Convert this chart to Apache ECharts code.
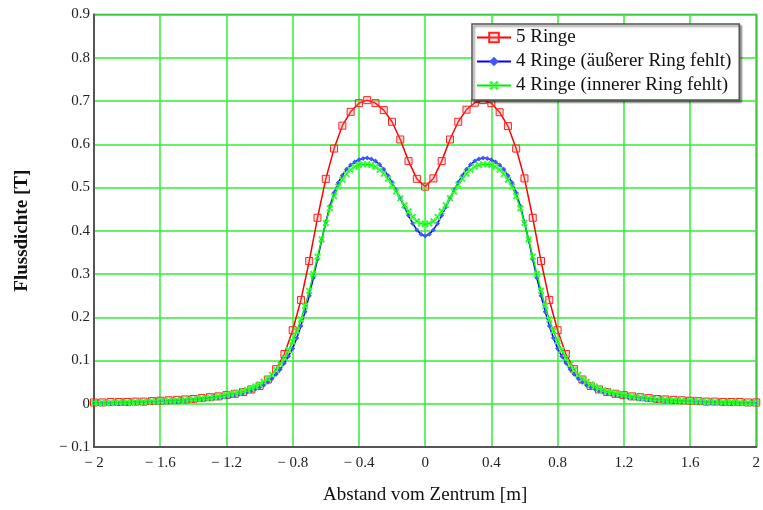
<!DOCTYPE html>
<html>
<head>
<meta charset="utf-8">
<script src="https://cdn.jsdelivr.net/npm/echarts@6/dist/echarts.min.js"></script>
<style>
  html, body { margin: 0; padding: 0; background: #fff; }
  #chart { width: 763px; height: 510px; }
</style>
</head>
<body>
<div id="chart"></div>
<script>
// x positions, step 0.05 (5 Ringe)
var xCoarse = [-2.00, -1.95, -1.90, -1.85, -1.80, -1.75, -1.70, -1.65, -1.60, -1.55,
    -1.50, -1.45, -1.40, -1.35, -1.30, -1.25, -1.20, -1.15, -1.10, -1.05,
    -1.00, -0.95, -0.90, -0.85, -0.80, -0.75, -0.70, -0.65, -0.60, -0.55,
    -0.50, -0.45, -0.40, -0.35, -0.30, -0.25, -0.20, -0.15, -0.10, -0.05,
    0.00, 0.05, 0.10, 0.15, 0.20, 0.25, 0.30, 0.35, 0.40, 0.45,
    0.50, 0.55, 0.60, 0.65, 0.70, 0.75, 0.80, 0.85, 0.90, 0.95,
    1.00, 1.05, 1.10, 1.15, 1.20, 1.25, 1.30, 1.35, 1.40, 1.45,
    1.50, 1.55, 1.60, 1.65, 1.70, 1.75, 1.80, 1.85, 1.90, 1.95, 2.00];

var ringe5 = [0.003, 0.003, 0.004, 0.004, 0.004, 0.005, 0.005, 0.006, 0.007, 0.008,
    0.009, 0.010, 0.011, 0.013, 0.015, 0.017, 0.020, 0.023, 0.027, 0.033,
    0.041, 0.056, 0.080, 0.115, 0.170, 0.240, 0.330, 0.430, 0.520, 0.590,
    0.643, 0.675, 0.695, 0.702, 0.695, 0.679, 0.652, 0.611, 0.561, 0.520,
    0.502, 0.521, 0.561, 0.611, 0.652, 0.680, 0.696, 0.702, 0.695, 0.674,
    0.642, 0.590, 0.521, 0.430, 0.330, 0.240, 0.170, 0.115, 0.080, 0.056,
    0.041, 0.033, 0.027, 0.023, 0.020, 0.017, 0.015, 0.013, 0.011, 0.010,
    0.009, 0.008, 0.007, 0.006, 0.005, 0.005, 0.004, 0.004, 0.004, 0.003, 0.003];

// x positions, step 0.025 (4 Ringe)
var xFine = [-2.000, -1.975, -1.950, -1.925, -1.900, -1.875, -1.850, -1.825, -1.800, -1.775,
    -1.750, -1.725, -1.700, -1.675, -1.650, -1.625, -1.600, -1.575, -1.550, -1.525,
    -1.500, -1.475, -1.450, -1.425, -1.400, -1.375, -1.350, -1.325, -1.300, -1.275,
    -1.250, -1.225, -1.200, -1.175, -1.150, -1.125, -1.100, -1.075, -1.050, -1.025,
    -1.000, -0.975, -0.950, -0.925, -0.900, -0.875, -0.850, -0.825, -0.800, -0.775,
    -0.750, -0.725, -0.700, -0.675, -0.650, -0.625, -0.600, -0.575, -0.550, -0.525,
    -0.500, -0.475, -0.450, -0.425, -0.400, -0.375, -0.350, -0.325, -0.300, -0.275,
    -0.250, -0.225, -0.200, -0.175, -0.150, -0.125, -0.100, -0.075, -0.050, -0.025,
    0.000, 0.025, 0.050, 0.075, 0.100, 0.125, 0.150, 0.175, 0.200, 0.225,
    0.250, 0.275, 0.300, 0.325, 0.350, 0.375, 0.400, 0.425, 0.450, 0.475,
    0.500, 0.525, 0.550, 0.575, 0.600, 0.625, 0.650, 0.675, 0.700, 0.725,
    0.750, 0.775, 0.800, 0.825, 0.850, 0.875, 0.900, 0.925, 0.950, 0.975,
    1.000, 1.025, 1.050, 1.075, 1.100, 1.125, 1.150, 1.175, 1.200, 1.225,
    1.250, 1.275, 1.300, 1.325, 1.350, 1.375, 1.400, 1.425, 1.450, 1.475,
    1.500, 1.525, 1.550, 1.575, 1.600, 1.625, 1.650, 1.675, 1.700, 1.725,
    1.750, 1.775, 1.800, 1.825, 1.850, 1.875, 1.900, 1.925, 1.950, 1.975, 2.000];

var aeussererFehlt = [0.001, 0.001, 0.001, 0.001, 0.002, 0.002, 0.002, 0.002, 0.002, 0.003,
    0.003, 0.003, 0.003, 0.004, 0.004, 0.004, 0.005, 0.005, 0.005, 0.006,
    0.006, 0.007, 0.007, 0.008, 0.008, 0.009, 0.010, 0.011, 0.012, 0.013,
    0.014, 0.015, 0.016, 0.018, 0.020, 0.022, 0.024, 0.027, 0.030, 0.034,
    0.038, 0.043, 0.050, 0.058, 0.068, 0.080, 0.094, 0.110, 0.128, 0.152,
    0.180, 0.213, 0.250, 0.291, 0.334, 0.378, 0.420, 0.457, 0.488, 0.511,
    0.528, 0.542, 0.552, 0.559, 0.564, 0.567, 0.568, 0.566, 0.561, 0.553,
    0.542, 0.528, 0.512, 0.494, 0.475, 0.455, 0.435, 0.417, 0.402, 0.392,
    0.388, 0.392, 0.402, 0.417, 0.435, 0.455, 0.475, 0.494, 0.512, 0.528,
    0.542, 0.553, 0.561, 0.566, 0.568, 0.567, 0.564, 0.559, 0.552, 0.542,
    0.528, 0.511, 0.488, 0.457, 0.420, 0.378, 0.334, 0.291, 0.250, 0.213,
    0.180, 0.152, 0.128, 0.110, 0.094, 0.080, 0.068, 0.058, 0.050, 0.043,
    0.038, 0.034, 0.030, 0.027, 0.024, 0.022, 0.020, 0.018, 0.016, 0.015,
    0.014, 0.013, 0.012, 0.011, 0.010, 0.009, 0.008, 0.008, 0.007, 0.007,
    0.006, 0.006, 0.005, 0.005, 0.005, 0.004, 0.004, 0.004, 0.003, 0.003,
    0.003, 0.003, 0.002, 0.002, 0.002, 0.002, 0.002, 0.001, 0.001, 0.001, 0.001];

var innererFehlt = [0.002, 0.002, 0.002, 0.002, 0.002, 0.003, 0.003, 0.003, 0.003, 0.003,
    0.004, 0.004, 0.004, 0.005, 0.005, 0.005, 0.006, 0.006, 0.007, 0.007,
    0.008, 0.008, 0.009, 0.010, 0.010, 0.011, 0.012, 0.013, 0.014, 0.015,
    0.017, 0.018, 0.020, 0.022, 0.024, 0.026, 0.029, 0.032, 0.036, 0.040,
    0.045, 0.051, 0.058, 0.067, 0.078, 0.091, 0.106, 0.124, 0.144, 0.168,
    0.195, 0.226, 0.261, 0.300, 0.340, 0.380, 0.418, 0.452, 0.480, 0.502,
    0.518, 0.531, 0.541, 0.548, 0.552, 0.554, 0.554, 0.552, 0.548, 0.541,
    0.532, 0.520, 0.506, 0.491, 0.475, 0.459, 0.445, 0.432, 0.422, 0.417,
    0.415, 0.417, 0.422, 0.432, 0.445, 0.459, 0.475, 0.491, 0.506, 0.520,
    0.532, 0.541, 0.548, 0.552, 0.554, 0.554, 0.552, 0.548, 0.541, 0.531,
    0.518, 0.502, 0.480, 0.452, 0.418, 0.380, 0.340, 0.300, 0.261, 0.226,
    0.195, 0.168, 0.144, 0.124, 0.106, 0.091, 0.078, 0.067, 0.058, 0.051,
    0.045, 0.040, 0.036, 0.032, 0.029, 0.026, 0.024, 0.022, 0.020, 0.018,
    0.017, 0.015, 0.014, 0.013, 0.012, 0.011, 0.010, 0.010, 0.009, 0.008,
    0.008, 0.007, 0.007, 0.006, 0.006, 0.005, 0.005, 0.005, 0.004, 0.004,
    0.004, 0.003, 0.003, 0.003, 0.003, 0.003, 0.002, 0.002, 0.002, 0.002, 0.002];

var seriesNames = ['5 Ringe', '4 Ringe (äußerer Ring fehlt)', '4 Ringe (innerer Ring fehlt)'];

function pairs(xs, ys) {
    return xs.map(function (x, i) { return [x, ys[i]]; });
}

// Mathcad-artiges Minus: "− 0.4"
function fmt(v, digits) {
    var r = Math.round(v * 1000) / 1000;
    if (Math.abs(r) < 1e-9) return '0';
    var s = Math.abs(r).toFixed(digits).replace(/\.?0+$/, '');
    return r < 0 ? '\u2212 ' + s : s;
}

var serif = 'Liberation Serif';
var crossPath = 'path://M0,2L2,0L10,8L8,10Z M8,0L0,8L2,10L10,2Z';

var myChart = echarts.init(document.getElementById('chart'));

var option = {
    animation: false,
    backgroundColor: '#fff',
    grid: {
        left: 94,
        right: 3,
        top: 14.5,
        bottom: 61,
        show: true,
        borderColor: '#666',
        borderWidth: 1.5
    },
    legend: {
        orient: 'vertical',
        left: 472,
        top: 24,
        padding: [4, 8, 5, 4],
        itemGap: 5,
        itemWidth: 34,
        itemHeight: 12,
        backgroundColor: '#fff',
        borderColor: '#555',
        borderWidth: 1.5,
        shadowColor: 'rgba(0,0,0,0.45)',
        shadowOffsetX: 2,
        shadowOffsetY: 2,
        shadowBlur: 2,
        textStyle: { fontFamily: serif, fontSize: 19, color: '#111' },
        data: seriesNames
    },
    xAxis: {
        type: 'value',
        min: -2,
        max: 2,
        interval: 0.4,
        name: 'Abstand vom Zentrum [m]',
        nameLocation: 'middle',
        nameGap: 39,
        nameTextStyle: { fontFamily: serif, fontSize: 19, color: '#111' },
        axisLine: { show: true, onZero: false, lineStyle: { color: '#555', width: 2 } },
        axisTick: { show: false },
        axisLabel: {
            margin: 9,
            fontFamily: serif,
            fontSize: 15,
            color: '#222',
            formatter: function (v) { return fmt(v, 1); }
        },
        splitLine: { show: true, lineStyle: { color: '#33ee33', width: 1.5 } }
    },
    yAxis: {
        type: 'value',
        min: -0.1,
        max: 0.9,
        interval: 0.1,
        name: 'Flussdichte [T]',
        nameLocation: 'middle',
        nameGap: 62,
        nameTextStyle: { fontFamily: serif, fontSize: 19, fontWeight: 'bold', color: '#111' },
        axisLine: { show: true, onZero: false, lineStyle: { color: '#555', width: 2 } },
        axisTick: { show: false },
        axisLabel: {
            margin: 4,
            fontFamily: serif,
            fontSize: 15,
            color: '#222',
            formatter: function (v) { return fmt(v, 1); }
        },
        splitLine: { show: true, lineStyle: { color: '#33ee33', width: 1.5 } }
    },
    series: [{
        name: seriesNames[0],
        type: 'line',
        data: pairs(xCoarse, ringe5),
        showAllSymbol: true,
        symbol: 'rect',
        symbolSize: 7,
        lineStyle: { color: '#ff0000', width: 1.5 },
        itemStyle: { color: 'rgba(255,140,140,0.25)', borderColor: '#ff2222', borderWidth: 1 },
        z: 3
    }, {
        name: seriesNames[1],
        type: 'line',
        data: pairs(xFine, aeussererFehlt),
        showAllSymbol: true,
        symbol: 'diamond',
        symbolSize: 5,
        lineStyle: { color: '#0000ff', width: 1.5 },
        itemStyle: { color: '#4455ff' },
        z: 4
    }, {
        name: seriesNames[2],
        type: 'line',
        data: pairs(xFine, innererFehlt),
        showAllSymbol: true,
        symbol: crossPath,
        symbolSize: 7,
        lineStyle: { color: '#00ee00', width: 1.5 },
        itemStyle: { color: '#33ff33' },
        z: 5
    }]
};

myChart.setOption(option);
window.addEventListener('resize', function () {
    myChart.resize();
});
</script>
</body>
</html>
